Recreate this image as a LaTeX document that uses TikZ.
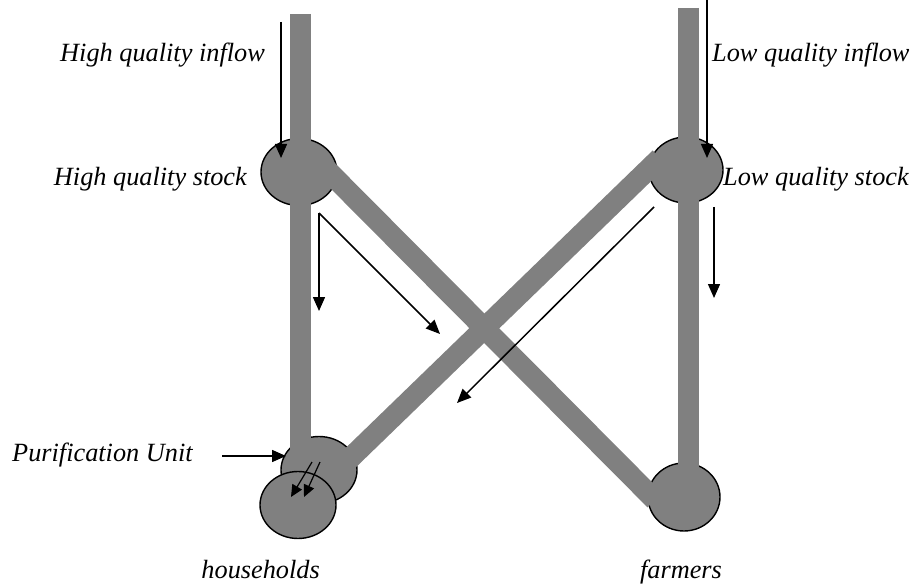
\documentclass[tikz,border=0pt]{standalone}
\usepackage{fontspec}
\setmainfont{Liberation Serif}
\usetikzlibrary{arrows.meta,shapes.geometric}
\definecolor{pipegrey}{RGB}{128,128,128}
\begin{document}
\begin{tikzpicture}[x=1pt,y=-1pt,
  tank/.style={ellipse,draw=black,line width=1.4pt,fill=pipegrey,inner sep=0pt,
               minimum width=76pt,minimum height=67pt},
  pipe/.style={draw=pipegrey,line width=21pt},
  flow/.style={line width=1.5pt,-{Triangle[length=14pt,width=12pt]}},
  smallflow/.style={line width=1.2pt,-{Triangle[length=12pt,width=11pt]}},
  lbl/.style={font=\fontsize{26.3}{31}\selectfont\itshape,inner sep=0pt}]
\useasboundingbox (0,0) rectangle (917,585);

% storage and demand tanks
\node[tank] (hstock) at (299,172) {};
\node[tank,minimum width=74pt,minimum height=66pt] (lstock) at (686,170) {};
\node[tank] (purif) at (319,470) {};
\node[tank,minimum width=72pt,minimum height=68pt] (farm) at (684,497) {};

% pipe end points
\coordinate (hin) at (300,14);
\coordinate (lin) at (688,8);
\coordinate (hc) at (300,172);
\coordinate (lc) at (688,170);
\coordinate (hdiag) at (325,168);
\coordinate (fdiag) at (655,500);
\coordinate (ldiag) at (660,158);
\coordinate (pdiag) at (338,470);
\coordinate (hlow) at (300,470);
\coordinate (flow) at (688,497);

% pipes
\draw[pipe] (hin) -- (hc);
\draw[pipe] (lin) -- (lc);
\draw[pipe] (hc) -- (hlow);
\draw[pipe] (lc) -- (flow);
\draw[pipe] (hdiag) -- (fdiag);
\draw[pipe] (ldiag) -- (pdiag);

% households tank in front of the purification unit
\node[tank] (house) at (298,505) {};

% flow arrows
\coordinate (a1s) at (281,22);   \coordinate (a1e) at (281,158);
\coordinate (a2s) at (707,0);    \coordinate (a2e) at (707,158);
\coordinate (a3s) at (319,213);  \coordinate (a3e) at (319,311);
\coordinate (a4e) at (440,334);
\coordinate (a5s) at (714,207);  \coordinate (a5e) at (714,298);
\coordinate (a6s) at (654,207);  \coordinate (a6e) at (457,403);
\coordinate (a7s) at (222,456);  \coordinate (a7e) at (286,456);
\coordinate (a8s) at (312,462);  \coordinate (a8e) at (291,497);
\coordinate (a9s) at (320,462);  \coordinate (a9e) at (304,497);
\draw[flow] (a1s) -- (a1e);
\draw[flow] (a2s) -- (a2e);
\draw[flow] (a3s) -- (a3e);
\draw[flow] (a3s) -- (a4e);
\draw[flow] (a5s) -- (a5e);
\draw[flow] (a6s) -- (a6e);
\draw[flow] (a7s) -- (a7e);
\draw[smallflow] (a8s) -- (a8e);
\draw[smallflow] (a9s) -- (a9e);

% labels
\node[lbl,anchor=base east] (thin) at (265,62) {High quality inflow};
\node[lbl,anchor=base west] (tlin) at (712,62) {Low quality inflow};
\node[lbl,anchor=base east] (thst) at (247,186) {High quality stock};
\node[lbl,anchor=base west] (tlst) at (723,186) {Low quality stock};
\node[lbl,anchor=base west] (tpur) at (12,461) {Purification Unit};
\node[lbl,anchor=base east] (thou) at (320,578) {households};
\node[lbl,anchor=base] (tfar) at (681,578) {farmers};
\end{tikzpicture}
\end{document}
